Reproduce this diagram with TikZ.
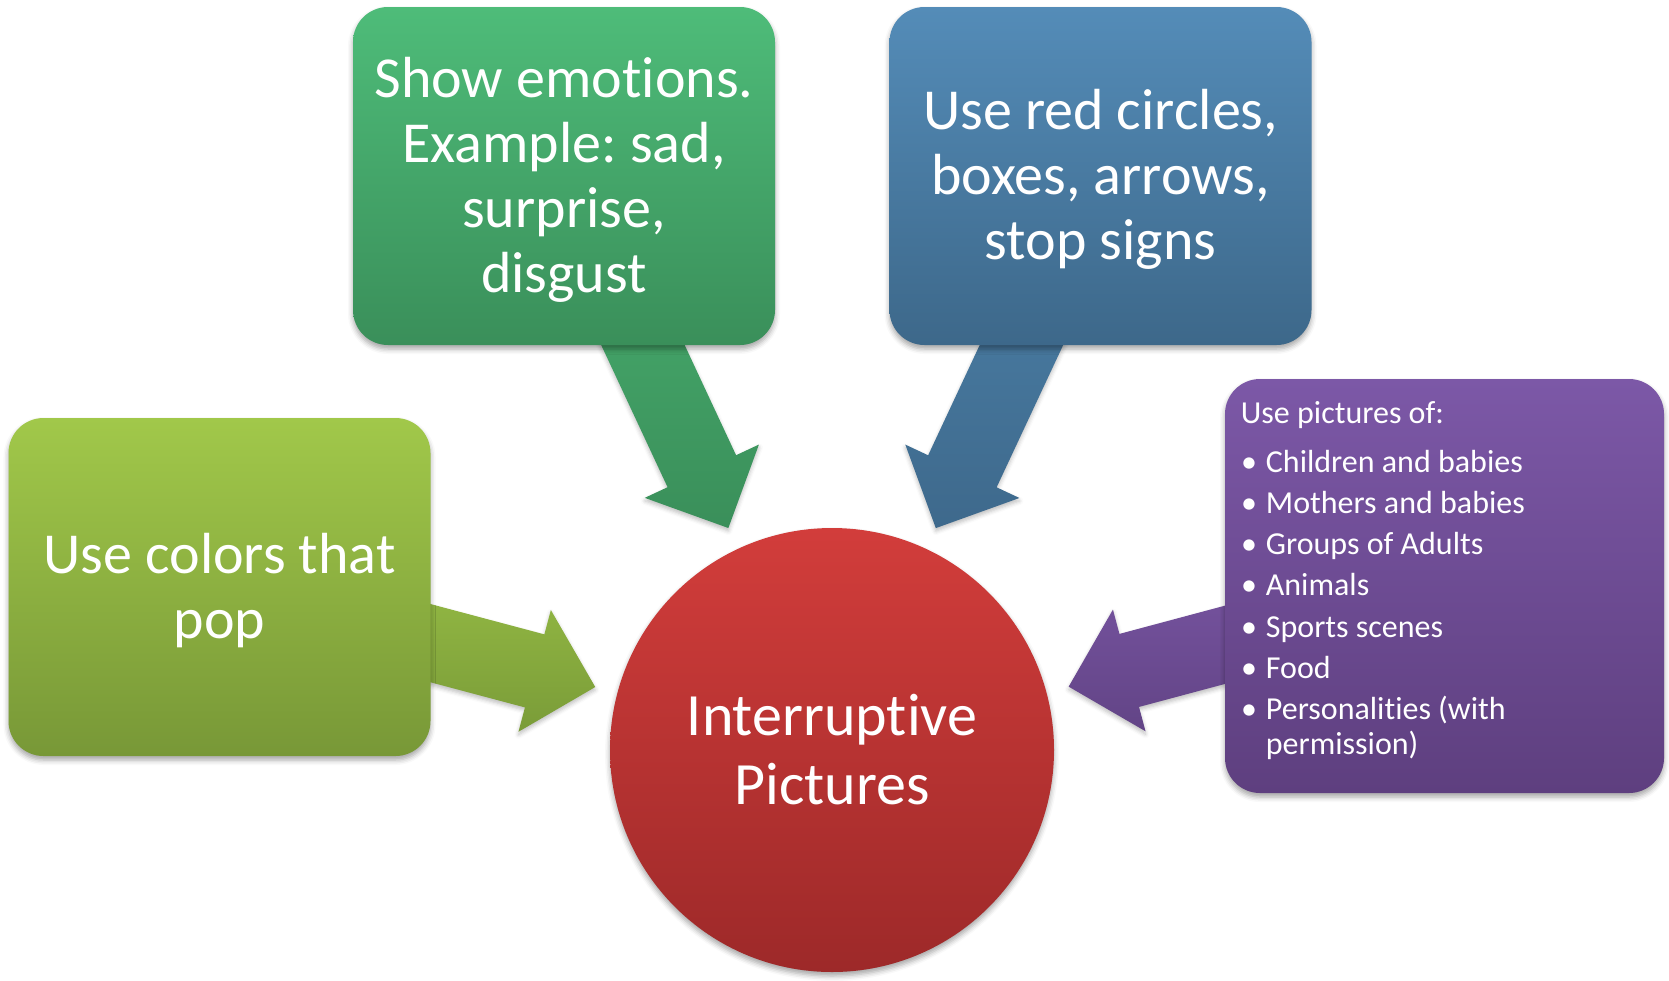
\documentclass[tikz,border=0pt]{standalone}
\usepackage{fontspec}
\setmainfont{Carlito}[Ligatures={NoCommon}]
\frenchspacing
\usetikzlibrary{calc,backgrounds,shadows.blur}
\newcommand{\nolig}{\kern0pt\relax}
\definecolor{gTop}{RGB}{78,188,121}
\definecolor{gBot}{RGB}{58,143,90}
\definecolor{gaTop}{RGB}{74,178,113}
\definecolor{gaBot}{RGB}{58,143,90}
\definecolor{bTop}{RGB}{84,140,184}
\definecolor{bBot}{RGB}{61,104,138}
\definecolor{baTop}{RGB}{78,132,172}
\definecolor{baBot}{RGB}{62,105,140}
\definecolor{lTop}{RGB}{161,200,74}
\definecolor{lBot}{RGB}{120,152,55}
\definecolor{laTop}{RGB}{152,190,70}
\definecolor{laBot}{RGB}{122,156,56}
\definecolor{pTop}{RGB}{124,88,167}
\definecolor{pBot}{RGB}{94,63,127}
\definecolor{paTop}{RGB}{122,86,164}
\definecolor{paBot}{RGB}{98,68,134}
\definecolor{rTop}{RGB}{210,61,59}
\definecolor{rBot}{RGB}{157,41,41}
% block arrow from box #1 towards circle #2, shaded #3 -> #4
\newcommand{\blockarrow}[4]{%
  \coordinate (#1-T) at ($(#2.center)!122.5pt!(#1.center)$);
  \coordinate (#1-M) at ($(#2.center)!153.85pt!(#1.center)$);
  \path[arrowfill, top color=#3, bottom color=#4]
    (#1-T)
    -- ($(#1-M)!31.5pt!90:(#1-T)$)
    -- ($(#1-M)!18.9pt!90:(#1-T)$)
    -- ($(#1.center)!18.9pt!90:(#1-T)$)
    -- ($(#1.center)!18.9pt!-90:(#1-T)$)
    -- ($(#1-M)!18.9pt!-90:(#1-T)$)
    -- ($(#1-M)!31.5pt!-90:(#1-T)$)
    -- cycle;
}
\begin{document}
\begin{tikzpicture}[x=0.5pt,y=-0.5pt,
  softshadow/.style={blur shadow={shadow xshift=0pt,shadow yshift=-2pt,shadow blur radius=2.5pt,shadow opacity=35}},
  tbox/.style={rounded corners=17.5pt, inner sep=0pt,
    minimum width=211pt, minimum height=169pt, softshadow},
  btext/.style={text=white, align=center, inner sep=0pt,
    font=\fontsize{29pt}{32.5pt}\selectfont},
  arrowfill/.style={blur shadow={shadow xshift=0pt,shadow yshift=-1.5pt,shadow blur radius=2pt,shadow opacity=25}},
  ltxt/.style={text=white, inner sep=0pt, font=\fontsize{16pt}{19pt}\selectfont}]
\useasboundingbox (0,0) rectangle (1669,980);

% boxes
\node[tbox, top color=gTop, bottom color=gBot] (green) at (564,176) {};
\node[tbox, top color=bTop, bottom color=bBot] (blue) at (1100.5,176) {};
\node[tbox, top color=lTop, bottom color=lBot] (lime) at (219.5,587) {};
\node[rounded corners=17.5pt, inner sep=0pt, minimum width=219.5pt, minimum height=207pt,
  top color=pTop, bottom color=pBot, softshadow] (purple) at (1444.5,586) {};

% box texts
\node[btext] (green-t) at ($(green.center)+(0,3.5)$)
  {Show emot\nolig ions.\\Example: sad,\\surprise,\\disgust};
\node[btext] (blue-t) at ($(blue.center)+(0,3.5)$)
  {Use red circles,\\boxes, arrows,\\stop signs};
\node[btext] (lime-t) at ($(lime.center)+(0,3.5)$)
  {Use colors that\\pop};

% centre circle
\node[circle, inner sep=0pt, minimum size=222pt, top color=rTop, bottom color=rBot,
  text=white, align=center, font=\fontsize{30pt}{34.5pt}\selectfont, softshadow]
  (circ) at (832,750) {Interrupt\nolig ive\\Pictures};

% list in purple box
\node[ltxt, anchor=base west] (ptitle) at (1240.5,423) {Use pictures of:};
\foreach \i/\y/\t in {1/472/Children and babies, 2/513.3/Mothers and babies,
  3/554.6/Groups of Adults, 4/595.9/Animals, 5/637.2/Sports scenes, 6/678.5/Food,
  7/719.8/Personalit\nolig ies (with} {
  \node[ltxt, anchor=base] (pb\i) at (1249,\y) {•};
  \node[ltxt, anchor=base west] (pi\i) at (1265.5,\y) {\t};
}
\node[ltxt, anchor=base west] (pi8) at (1265.5,754.5) {permission)};

% block arrows behind the boxes
\begin{scope}[on background layer]
  \blockarrow{green}{circ}{gaTop}{gaBot}
  \blockarrow{blue}{circ}{baTop}{baBot}
  \blockarrow{lime}{circ}{laTop}{laBot}
  \blockarrow{purple}{circ}{paTop}{paBot}
\end{scope}
\end{tikzpicture}
\end{document}
